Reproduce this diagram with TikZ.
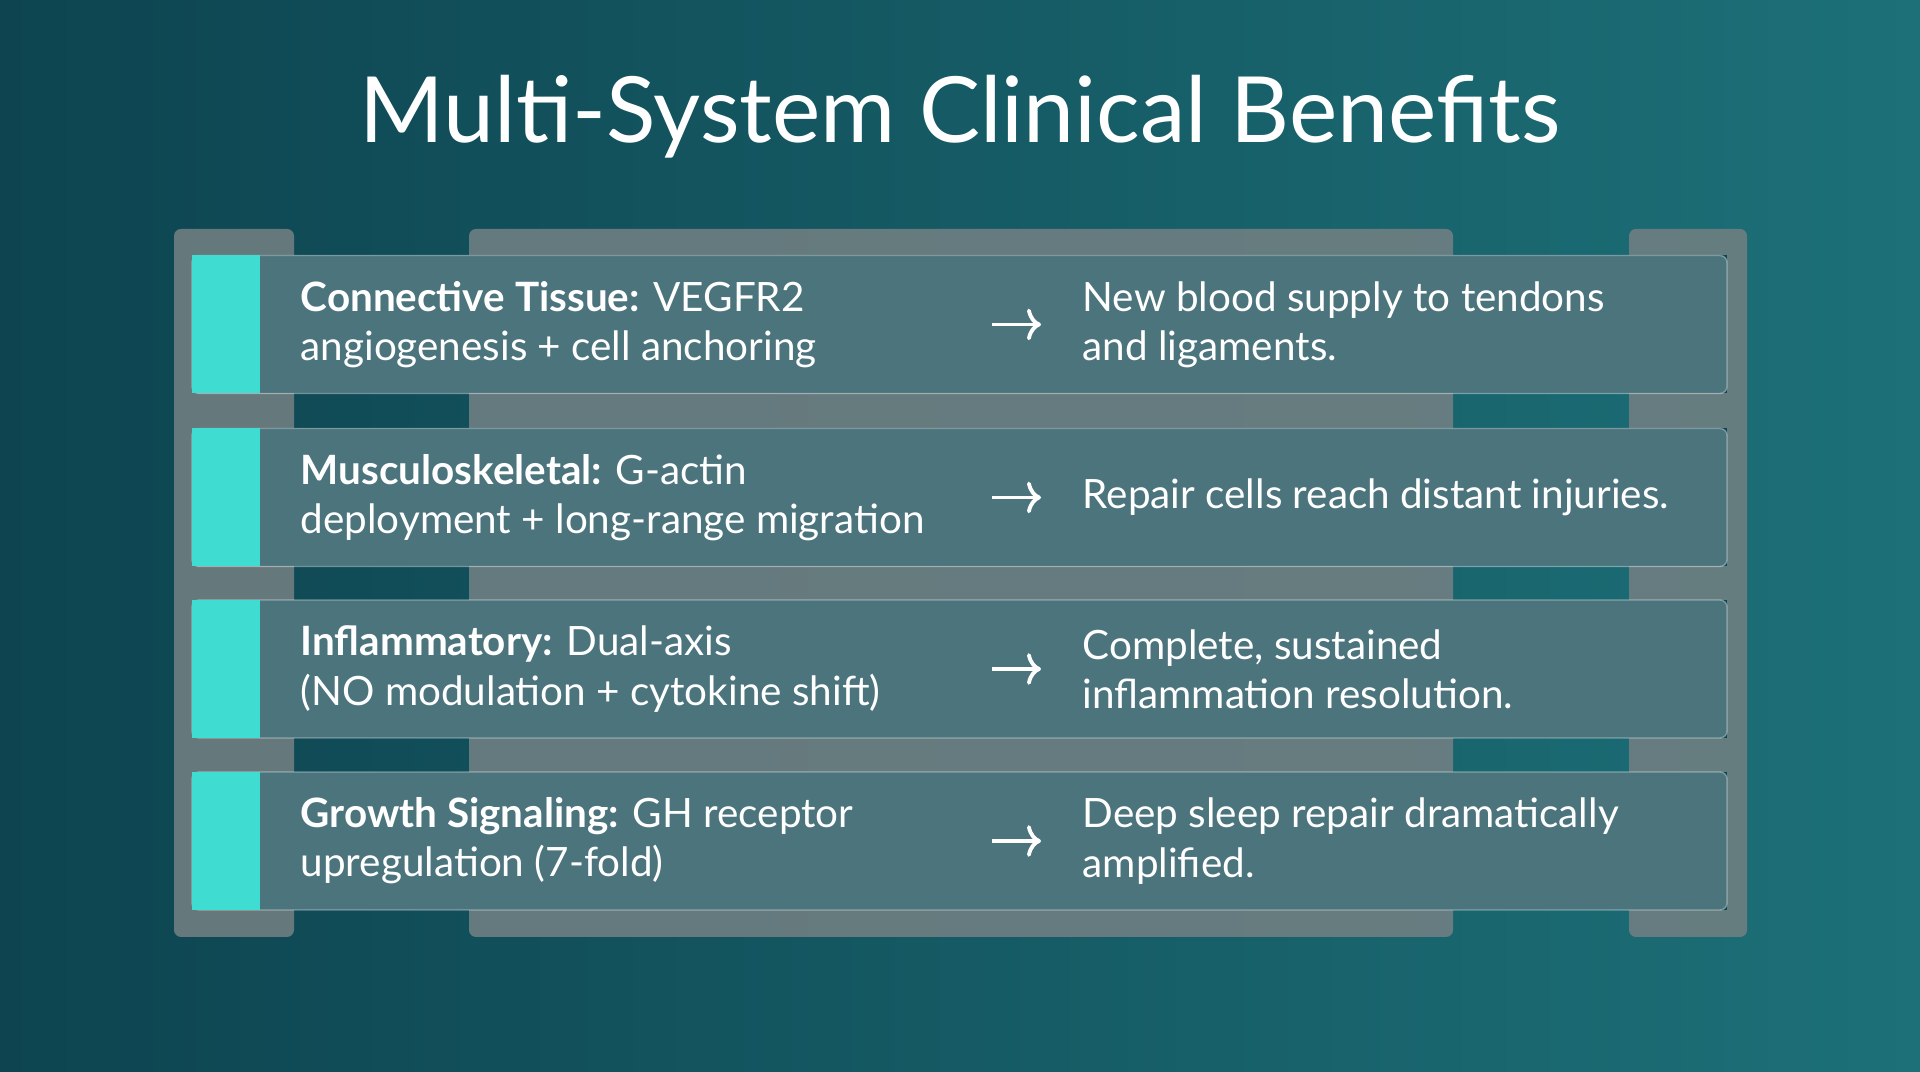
\documentclass[tikz,border=0pt]{standalone}
\usepackage{fontspec}
\setmainfont{Lato}
\usetikzlibrary{positioning,calc,arrows.meta}
\definecolor{bgdark}{HTML}{0D4450}
\definecolor{bglight}{HTML}{1D7078}
\definecolor{accent}{HTML}{3FDCD2}
\definecolor{panel}{HTML}{6F7F82}
\tikzset{
  bar/.style={fill=white, fill opacity=0.26, draw=white, draw opacity=0.35, rounded corners=2pt, minimum width=15.35cm, minimum height=1.38cm, inner sep=0},
  tab/.style={fill=panel, fill opacity=0.9, rounded corners=2pt},
  lefttext/.style={anchor=west, align=left, text=white, font=\fontsize{11.5}{14}\selectfont, inner sep=0},
  righttext/.style={anchor=west, align=left, text=white, font=\fontsize{11.5}{14}\selectfont, inner sep=0},
}
\begin{document}
\begin{tikzpicture}
  \useasboundingbox (0,0) rectangle (19.2,10.72);
  \shade[left color=bgdark, right color=bglight] (0,0) rectangle (19.2,10.72);
  \node[text=white, font=\fontsize{26}{30}\selectfont] (title) at (9.6,9.55) {Multi-System Clinical Benefits};

  % back panel and side tabs
  \fill[tab] (4.69,1.35) rectangle (14.53,8.43);
  \fill[tab] (1.74,1.35) rectangle (2.94,8.43);
  \fill[tab] (16.29,1.35) rectangle (17.47,8.43);

  \foreach \i/\y/\lt/\rt in {
    1/7.475/{\textbf{Connective Tissue:} VEGFR2\\angiogenesis + cell anchoring}/{New blood supply to tendons\\and ligaments.},
    2/5.745/{\textbf{Musculoskeletal:} G-actin\\deployment + long-range migration}/{Repair cells reach distant injuries.},
    3/4.030/{\textbf{Inflammatory:} Dual-axis\\(NO modulation + cytokine shift)}/{Complete, sustained\\inflammation resolution.},
    4/2.310/{\textbf{Growth Signaling:} GH receptor\\upregulation (7-fold)}/{Deep sleep repair dramatically\\amplified.}}{
    \fill[bgdark] (1.92,\y-0.69) rectangle (17.27,\y+0.69);
    \node[bar] (bar\i) at (9.595,\y) {};
    \fill[accent] (1.92,\y-0.69) rectangle (2.6,\y+0.69);
    \node[lefttext] (cause\i) at (3.0,\y) {\lt};
    \coordinate (from\i) at (9.92,\y);
    \coordinate (to\i) at (10.41,\y);
    \draw[-{To[length=4pt,width=9pt]}, white, line width=1.1pt] (from\i) -- (to\i);
    \node[righttext] (effect\i) at (10.82,\y) {\rt};
  }
\end{tikzpicture}
\end{document}
